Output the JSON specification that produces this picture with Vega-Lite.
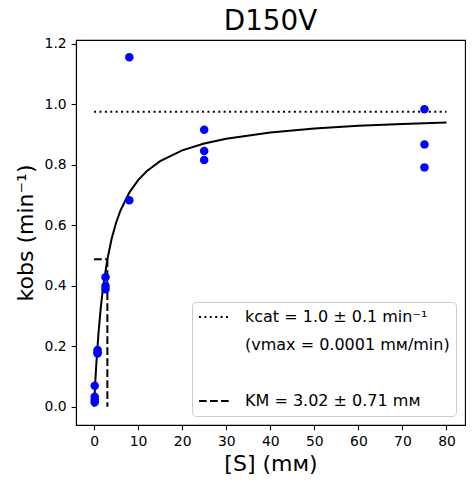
{
  "$schema": "https://vega.github.io/schema/vega-lite/v6.json",
  "autosize": "none",
  "width": 389,
  "height": 385,
  "padding": {"left": 76, "top": 40, "right": 8, "bottom": 59},
  "title": {"text": "D150V", "fontSize": 27.8, "font": "DejaVu Sans", "fontWeight": "normal", "color": "black", "offset": 1},
  "config": {
    "font": "DejaVu Sans",
    "view": {"stroke": "black", "strokeWidth": 1.1},
    "axis": {
      "grid": false,
      "domainColor": "black",
      "domainWidth": 1.1,
      "tickColor": "black",
      "tickWidth": 1.1,
      "tickSize": 4.9,
      "labelPadding": 4.9,
      "labelFontSize": 13.9,
      "labelColor": "black",
      "titleFontSize": 22,
      "titleFontWeight": "normal",
      "titleColor": "black"
    }
  },
  "datasets": {
    "obs": [
      {"S": 0.15, "k": 0.069}, {"S": 0.15, "k": 0.033}, {"S": 0.15, "k": 0.022}, {"S": 0.15, "k": 0.015},
      {"S": 0.8, "k": 0.187}, {"S": 0.8, "k": 0.180}, {"S": 0.8, "k": 0.176},
      {"S": 2.6, "k": 0.428}, {"S": 2.6, "k": 0.399}, {"S": 2.6, "k": 0.388},
      {"S": 8, "k": 1.155}, {"S": 8, "k": 0.682},
      {"S": 25, "k": 0.915}, {"S": 25, "k": 0.845}, {"S": 25, "k": 0.815},
      {"S": 75, "k": 0.983}, {"S": 75, "k": 0.867}, {"S": 75, "k": 0.791}
    ],
    "fit": [
      {"S": 0, "k": 0}, {"S": 0.25, "k": 0.0745}, {"S": 0.5, "k": 0.1385}, {"S": 1, "k": 0.2425},
      {"S": 1.5, "k": 0.3236}, {"S": 2, "k": 0.3884}, {"S": 3, "k": 0.4859}, {"S": 4, "k": 0.5556},
      {"S": 5, "k": 0.6079}, {"S": 6, "k": 0.6486}, {"S": 8, "k": 0.7078}, {"S": 10, "k": 0.7488},
      {"S": 12, "k": 0.779}, {"S": 15, "k": 0.8116}, {"S": 20, "k": 0.8471}, {"S": 25, "k": 0.8699},
      {"S": 30, "k": 0.8858}, {"S": 40, "k": 0.9066}, {"S": 50, "k": 0.9195}, {"S": 60, "k": 0.9283},
      {"S": 70, "k": 0.9347}, {"S": 80, "k": 0.9395}
    ],
    "guides": [
      {"series": "kcat", "seg": "a", "S": 0, "k": 0.975},
      {"series": "kcat", "seg": "a", "S": 80, "k": 0.975},
      {"series": "KM", "seg": "b", "S": 0, "k": 0.4875},
      {"series": "KM", "seg": "b", "S": 3.02, "k": 0.4875},
      {"series": "KM", "seg": "c", "S": 3.02, "k": 0.4875},
      {"series": "KM", "seg": "c", "S": 3.02, "k": 0}
    ]
  },
  "encoding": {
    "x": {
      "field": "S", "type": "quantitative",
      "scale": {"domain": [-4.1, 84.2], "nice": false, "zero": false},
      "axis": {"values": [0, 10, 20, 30, 40, 50, 60, 70, 80], "title": "[S] (mᴍ)", "titlePadding": 5}
    },
    "y": {
      "field": "k", "type": "quantitative",
      "scale": {"domain": [-0.0605, 1.212], "nice": false, "zero": false},
      "axis": {"values": [0, 0.2, 0.4, 0.6, 0.8, 1.0, 1.2], "format": ".1f", "title": "kobs (min⁻¹)", "titlePadding": 7}
    }
  },
  "layer": [
    {
      "data": {"name": "fit"},
      "mark": {"type": "line", "color": "black", "strokeWidth": 2}
    },
    {
      "data": {"name": "guides"},
      "mark": {"type": "line", "strokeWidth": 2},
      "encoding": {
        "detail": {"field": "seg"},
        "strokeDash": {
          "field": "series", "type": "nominal",
          "scale": {"domain": ["kcat", "vmax", "blank", "KM"], "range": [[2, 3.4], [1, 0], [1, 0], [7.7, 3.3]]},
          "legend": {
            "title": null,
            "orient": "bottom-right",
            "offset": 9,
            "padding": 6,
            "symbolType": "stroke",
            "symbolSize": 961,
            "symbolStrokeWidth": 2,
            "clipHeight": 18,
            "labelFontSize": 16,
            "labelLimit": 0,
            "labelColor": "black",
            "labelOffset": 14,
            "rowPadding": 10,
            "strokeColor": "#cccccc",
            "cornerRadius": 4,
            "fillColor": "rgba(255,255,255,0.8)",
            "labelExpr": "datum.label == 'kcat' ? 'kcat = 1.0 ± 0.1 min⁻¹' : datum.label == 'vmax' ? '(vmax = 0.0001 mᴍ/min)' : datum.label == 'KM' ? 'KM = 3.02 ± 0.71 mᴍ' : ''"
          }
        },
        "color": {
          "field": "series", "type": "nominal",
          "scale": {"domain": ["kcat", "vmax", "blank", "KM"], "range": ["black", "transparent", "transparent", "black"]}
        }
      }
    },
    {
      "data": {"name": "obs"},
      "mark": {"type": "circle", "size": 72, "color": "#0000ff", "opacity": 1}
    }
  ]
}
